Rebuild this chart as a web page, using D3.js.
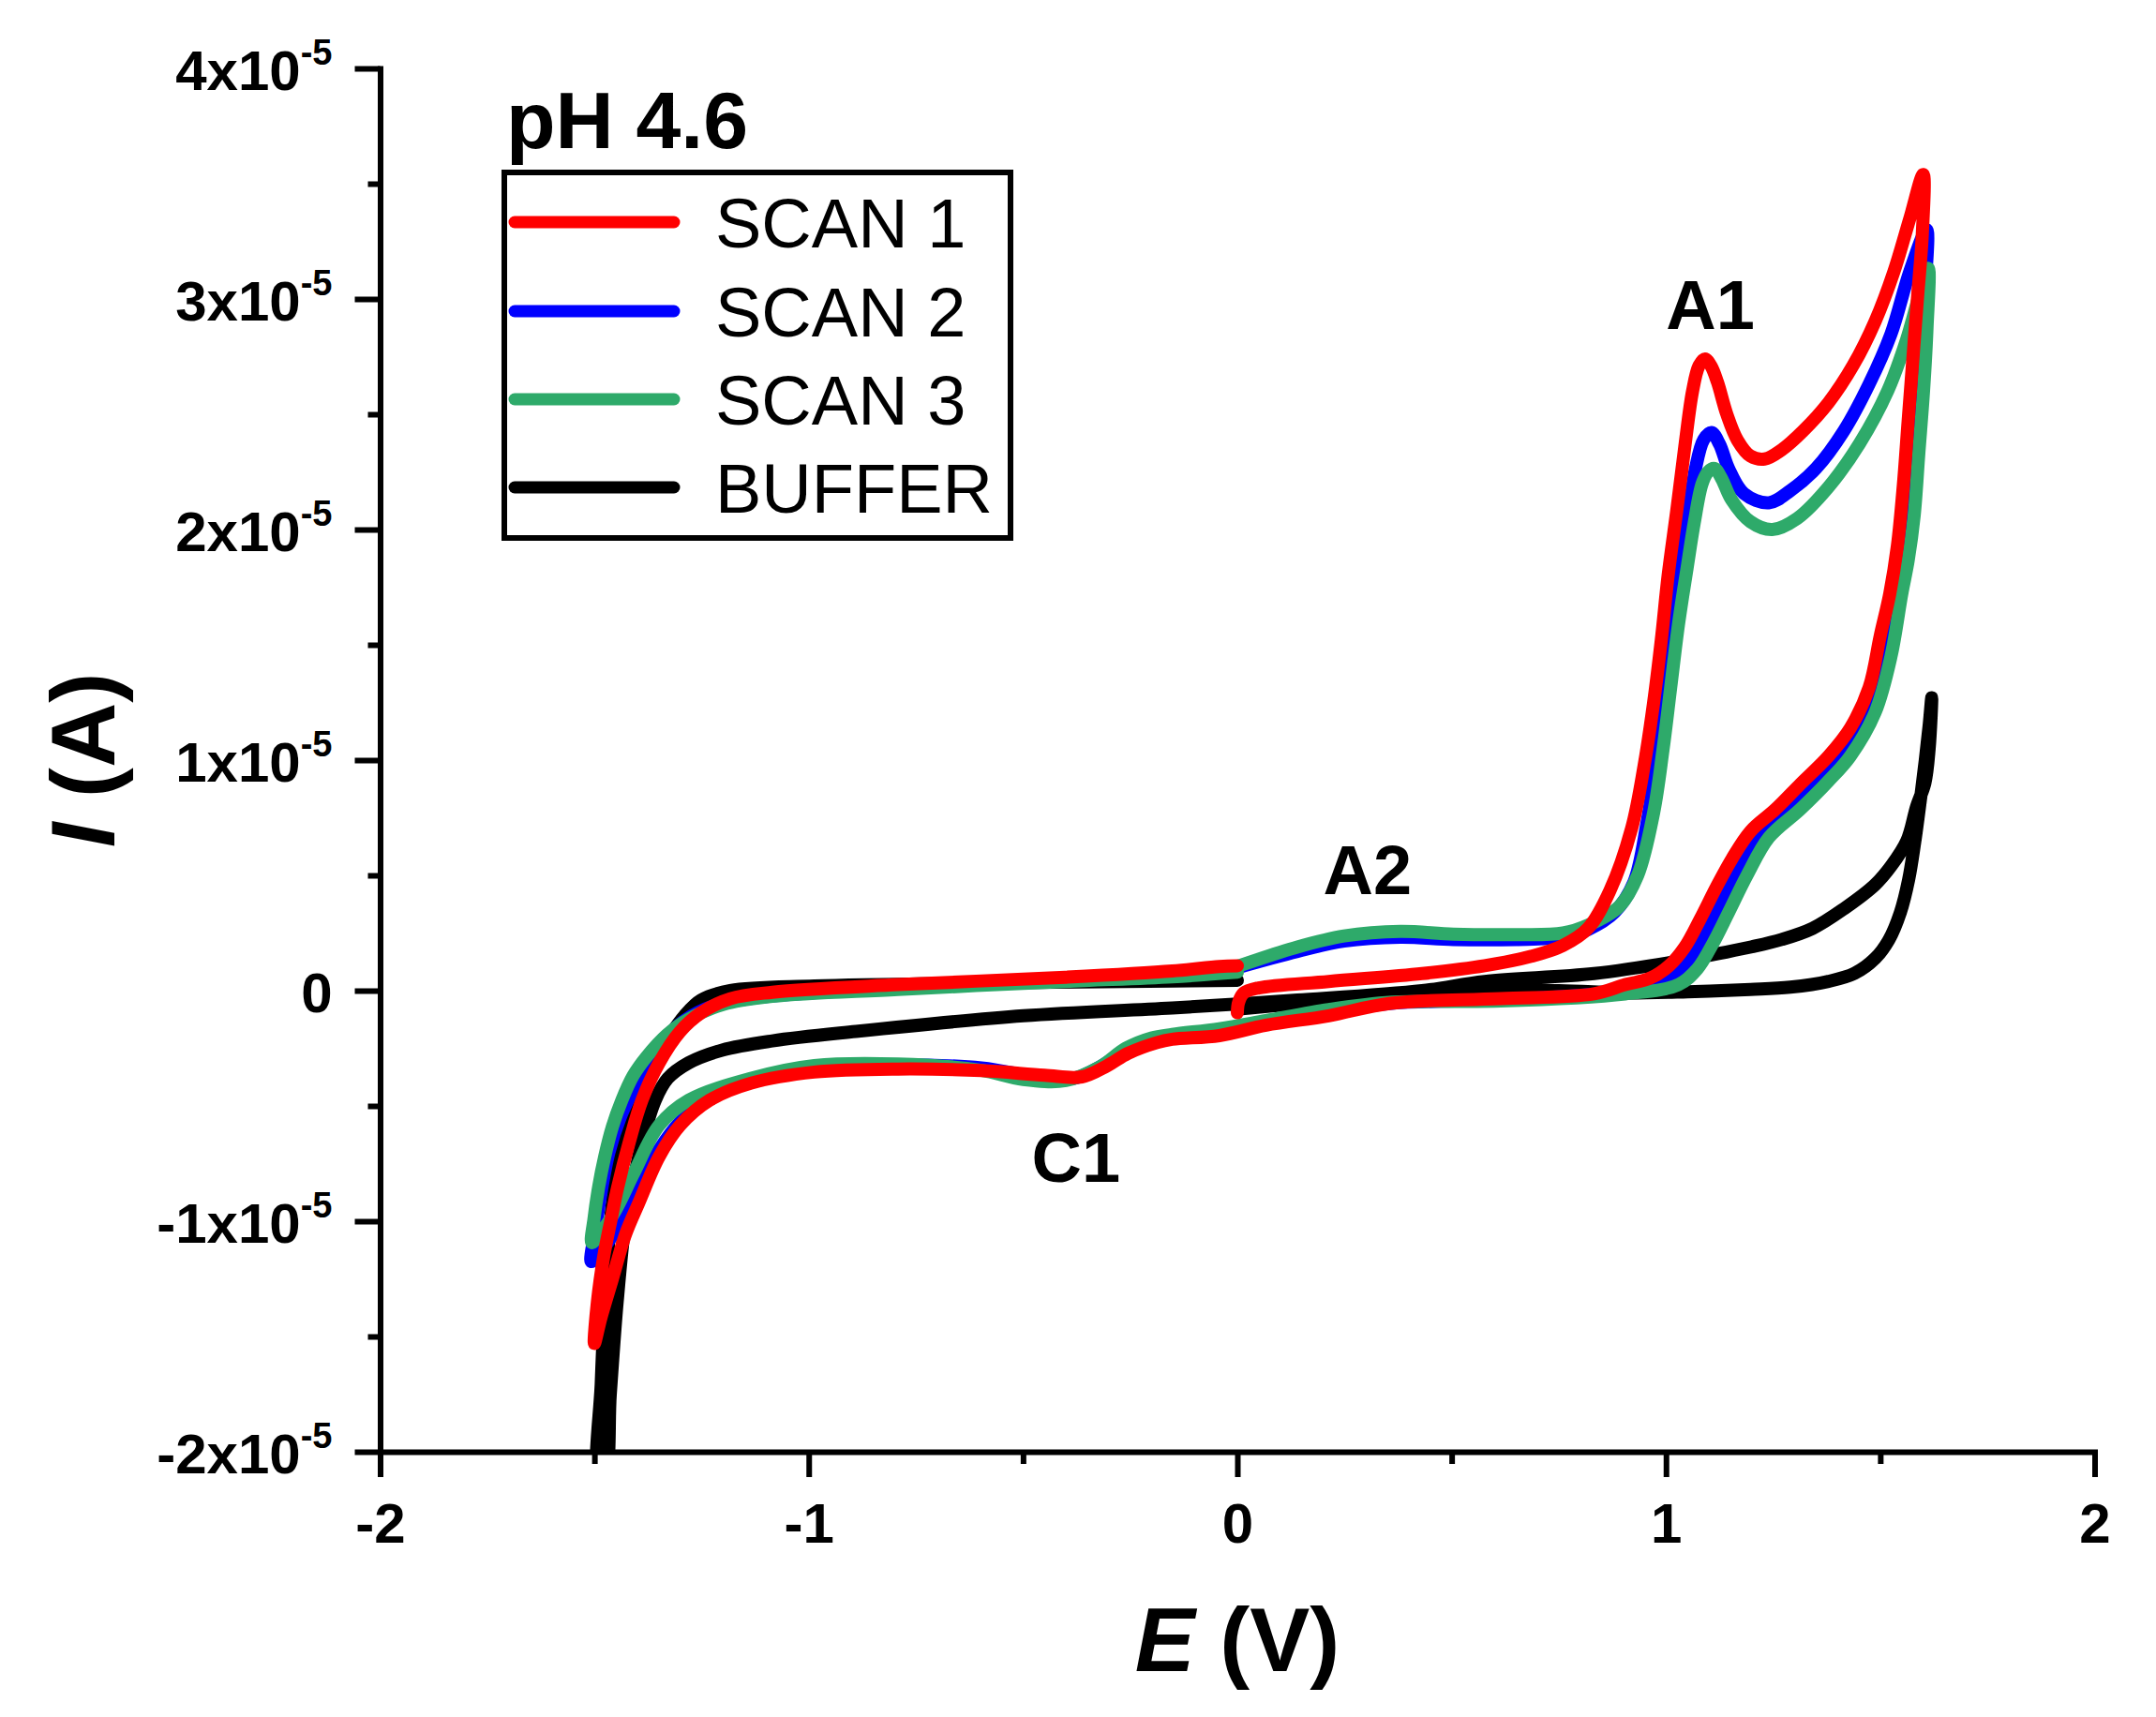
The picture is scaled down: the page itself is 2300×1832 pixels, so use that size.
<!DOCTYPE html>
<html><head><meta charset="utf-8">
<script src="https://cdn.jsdelivr.net/npm/d3@7"></script>
<style>body{margin:0;background:#fff}svg{display:block}</style>
</head><body>
<svg id="chart" width="2300" height="1832"></svg>
<script>
// ---------- data (E in V, I in units of 1e-5 A) ----------
const UNIT = 1e-5;
const xTicks = [-2, -1, 0, 1, 2];
const xMinorTicks = [-1.5, -0.5, 0.5, 1.5];
const xTickLabels = ["-2", "-1", "0", "1", "2"];
const yTicks = [-2, -1, 0, 1, 2, 3, 4];
const yMinorTicks = [-1.5, -0.5, 0.5, 1.5, 2.5, 3.5];
const yTickLabels = ["-2x10", "-1x10", "0", "1x10", "2x10", "3x10", "4x10"];
const yTickExponents = ["-5", "-5", "", "-5", "-5", "-5", "-5"];
const seriesNames = ["SCAN 1", "SCAN 2", "SCAN 3", "BUFFER"];
const seriesColors = ["#ff0000", "#0000ff", "#2eaa6a", "#000000"];
const titleText = "pH 4.6";
const xTitle = ["E", " (V)"];
const yTitle = ["I", " (A)"];
const peakLabels = ["A1", "A2", "C1"];
const peakPositions = [[1.00, 2.87], [0.20, 0.42], [-0.48, -0.83]];

const scan1 = [[0.000,-0.096],[0.003,-0.05],[0.015,-0.01],[0.05,0.012],[0.213,0.04],[0.431,0.074],[0.577,0.108],[0.686,0.149],[0.759,0.195],[0.818,0.27],[0.869,0.433],[0.920,0.705],[0.949,0.976],[0.971,1.247],[0.989,1.519],[1.005,1.80],[1.025,2.08],[1.044,2.36],[1.062,2.60],[1.077,2.71],[1.091,2.74],[1.105,2.71],[1.12,2.64],[1.142,2.50],[1.167,2.387],[1.197,2.319],[1.23,2.306],[1.27,2.346],[1.32,2.428],[1.379,2.55],[1.437,2.713],[1.488,2.903],[1.532,3.12],[1.569,3.35],[1.600,3.54],[1.598,3.28],[1.587,3.01],[1.576,2.74],[1.565,2.47],[1.554,2.197],[1.540,1.93],[1.522,1.72],[1.500,1.54],[1.474,1.315],[1.430,1.139],[1.379,1.017],[1.313,0.895],[1.255,0.786],[1.197,0.691],[1.153,0.569],[1.117,0.447],[1.080,0.311],[1.044,0.189],[1.007,0.108],[0.963,0.054],[0.905,0.026],[0.832,-0.014],[0.614,-0.035],[0.358,-0.055],[0.213,-0.109],[0.067,-0.15],[-0.042,-0.195],[-0.152,-0.211],[-0.187,-0.225],[-0.255,-0.272],[-0.304,-0.326],[-0.363,-0.374],[-0.45,-0.367],[-0.597,-0.347],[-0.792,-0.34],[-0.987,-0.353],[-1.134,-0.401],[-1.231,-0.475],[-1.3,-0.584],[-1.349,-0.72],[-1.397,-0.923],[-1.428,-1.06],[-1.458,-1.25],[-1.485,-1.42],[-1.500,-1.53],[-1.493,-1.35],[-1.478,-1.15],[-1.461,-0.991],[-1.446,-0.855],[-1.418,-0.652],[-1.389,-0.475],[-1.349,-0.313],[-1.3,-0.177],[-1.251,-0.096],[-1.183,-0.035],[-1.085,-0.007],[-0.792,0.026],[-0.402,0.058],[-0.152,0.085],[-0.042,0.105],[0.000,0.108]];

const scan2 = [[0.000,0.100],[0.14,0.17],[0.249,0.215],[0.38,0.232],[0.504,0.222],[0.65,0.222],[0.76,0.232],[0.818,0.265],[0.88,0.34],[0.925,0.47],[0.955,0.72],[0.978,1.0],[0.997,1.3],[1.015,1.58],[1.033,1.82],[1.051,2.04],[1.069,2.265],[1.088,2.39],[1.106,2.421],[1.125,2.37],[1.146,2.265],[1.182,2.156],[1.24,2.116],[1.291,2.17],[1.35,2.265],[1.415,2.428],[1.474,2.631],[1.525,2.848],[1.569,3.12],[1.608,3.30],[1.606,3.08],[1.598,2.80],[1.588,2.52],[1.577,2.24],[1.565,1.97],[1.550,1.78],[1.528,1.57],[1.503,1.40],[1.478,1.26],[1.432,1.08],[1.379,0.97],[1.313,0.85],[1.255,0.74],[1.205,0.63],[1.163,0.50],[1.125,0.37],[1.09,0.24],[1.055,0.13],[1.015,0.06],[0.95,0.015],[0.832,-0.015],[0.614,-0.04],[0.36,-0.055],[0.213,-0.095],[0.067,-0.14],[-0.042,-0.18],[-0.152,-0.2],[-0.2,-0.215],[-0.265,-0.265],[-0.32,-0.33],[-0.38,-0.38],[-0.45,-0.38],[-0.597,-0.335],[-0.792,-0.322],[-0.987,-0.335],[-1.134,-0.39],[-1.231,-0.465],[-1.3,-0.57],[-1.349,-0.69],[-1.40,-0.86],[-1.445,-1.02],[-1.48,-1.12],[-1.507,-1.175],[-1.497,-1.03],[-1.484,-0.87],[-1.466,-0.70],[-1.440,-0.55],[-1.412,-0.44],[-1.38,-0.33],[-1.34,-0.22],[-1.29,-0.13],[-1.22,-0.065],[-1.12,-0.03],[-0.792,0.012],[-0.402,0.05],[-0.152,0.075],[-0.042,0.09],[0.000,0.095]];

const scan3 = [[0.000,0.105],[0.14,0.189],[0.249,0.237],[0.38,0.257],[0.504,0.245],[0.65,0.243],[0.76,0.25],[0.818,0.284],[0.891,0.365],[0.934,0.50],[0.971,0.77],[0.993,1.044],[1.011,1.315],[1.029,1.586],[1.049,1.83],[1.066,2.03],[1.084,2.197],[1.098,2.25],[1.113,2.265],[1.13,2.22],[1.153,2.129],[1.197,2.034],[1.248,2.0],[1.306,2.048],[1.379,2.184],[1.452,2.374],[1.518,2.604],[1.561,2.821],[1.59,3.01],[1.612,3.133],[1.609,2.875],[1.601,2.604],[1.590,2.333],[1.579,2.06],[1.565,1.865],[1.550,1.72],[1.525,1.45],[1.488,1.207],[1.43,1.017],[1.379,0.909],[1.313,0.786],[1.24,0.664],[1.189,0.50],[1.146,0.339],[1.109,0.203],[1.073,0.094],[1.029,0.026],[0.905,-0.014],[0.614,-0.045],[0.36,-0.05],[0.213,-0.082],[0.067,-0.13],[-0.042,-0.165],[-0.152,-0.19],[-0.2,-0.205],[-0.26,-0.25],[-0.32,-0.33],[-0.4,-0.39],[-0.5,-0.385],[-0.6,-0.345],[-0.792,-0.318],[-0.987,-0.325],[-1.134,-0.38],[-1.28,-0.475],[-1.349,-0.584],[-1.407,-0.787],[-1.45,-0.95],[-1.485,-1.05],[-1.506,-1.093],[-1.501,-0.99],[-1.490,-0.85],[-1.476,-0.72],[-1.458,-0.59],[-1.436,-0.475],[-1.41,-0.37],[-1.378,-0.286],[-1.33,-0.19],[-1.28,-0.123],[-1.2,-0.06],[-1.085,-0.025],[-0.792,0.005],[-0.402,0.04],[-0.152,0.06],[0.000,0.08]];

const buffer = [[0.000,-0.08],[0.15,-0.055],[0.36,-0.025],[0.55,-0.005],[0.75,0.0],[0.905,-0.01],[1.05,-0.005],[1.197,0.005],[1.29,0.015],[1.379,0.04],[1.44,0.075],[1.488,0.14],[1.52,0.22],[1.547,0.34],[1.566,0.48],[1.580,0.64],[1.593,0.82],[1.605,1.0],[1.614,1.15],[1.620,1.27],[1.614,1.05],[1.604,0.90],[1.585,0.80],[1.562,0.65],[1.525,0.54],[1.488,0.46],[1.415,0.355],[1.342,0.27],[1.27,0.222],[1.20,0.19],[1.12,0.16],[1.051,0.135],[0.832,0.074],[0.577,0.04],[0.431,0.0],[0.14,-0.041],[-0.152,-0.075],[-0.499,-0.109],[-0.89,-0.177],[-1.085,-0.218],[-1.202,-0.258],[-1.28,-0.313],[-1.329,-0.381],[-1.358,-0.475],[-1.388,-0.652],[-1.412,-0.855],[-1.427,-0.991],[-1.447,-1.35],[-1.463,-1.75],[-1.476,-2.10],[-1.490,-2.10],[-1.484,-1.7],[-1.474,-1.3],[-1.46,-0.95],[-1.44,-0.70],[-1.41,-0.48],[-1.375,-0.33],[-1.339,-0.235],[-1.29,-0.109],[-1.251,-0.041],[-1.183,0.0],[-0.987,0.02],[-0.597,0.033],[-0.152,0.042],[0.000,0.045]];

const seriesData = [scan1, scan2, scan3, buffer];

// ---------- layout ----------
const FONT = "'Liberation Sans', Arial, Helvetica, sans-serif";
const svg = d3.select("#chart");
svg.append("rect").attr("width", 2300).attr("height", 1832).attr("fill", "#fff");

const x = d3.scaleLinear().domain([-2, 2]).range([405.5, 2234.5]);
const y = d3.scaleLinear().domain([-2 * UNIT, 4 * UNIT]).range([1549, 73]);

svg.append("defs").append("clipPath").attr("id", "plotclip")
  .append("rect").attr("x", x(-2)).attr("y", y(4 * UNIT))
  .attr("width", x(2) - x(-2)).attr("height", y(-2 * UNIT) - y(4 * UNIT));

const line = d3.line()
  .x(d => x(d[0]))
  .y(d => y(d[1] * UNIT))
  .curve(d3.curveCatmullRom.alpha(0.5));

// draw order: buffer at the bottom, scan 1 on top
const order = [3, 1, 2, 0];
const plot = svg.append("g").attr("clip-path", "url(#plotclip)");
order.forEach(i => {
  plot.append("path")
    .datum(seriesData[i])
    .attr("d", line)
    .attr("fill", "none")
    .attr("stroke", seriesColors[i])
    .attr("stroke-width", 14)
    .attr("stroke-linecap", "round")
    .attr("stroke-linejoin", "round");
});

// ---------- axes ----------
function styleAxis(g) {
  g.select(".domain").attr("stroke", "#000").attr("stroke-width", 6).attr("stroke-linecap", "square");
  g.selectAll(".tick line").attr("stroke", "#000").attr("stroke-width", 6);
}

// minor ticks
svg.append("g").attr("transform", `translate(0,${y(-2 * UNIT)})`)
  .call(d3.axisBottom(x).tickValues(xMinorTicks).tickSize(13).tickSizeOuter(0).tickFormat(""))
  .call(styleAxis).call(g => g.select(".domain").remove());
svg.append("g").attr("transform", `translate(${x(-2)},0)`)
  .call(d3.axisLeft(y).tickValues(yMinorTicks.map(v => v * UNIT)).tickSize(13).tickSizeOuter(0).tickFormat(""))
  .call(styleAxis).call(g => g.select(".domain").remove());

// major x axis
const gx = svg.append("g").attr("transform", `translate(0,${y(-2 * UNIT)})`)
  .call(d3.axisBottom(x).tickValues(xTicks).tickSize(27).tickSizeOuter(0)
    .tickFormat((d, i) => xTickLabels[i]))
  .call(styleAxis);
gx.selectAll(".tick text")
  .attr("y", 97).attr("dy", null)
  .attr("font-family", FONT).attr("font-size", 60).attr("font-weight", "bold").attr("fill", "#000");

// major y axis
const gy = svg.append("g").attr("transform", `translate(${x(-2)},0)`)
  .call(d3.axisLeft(y).tickValues(yTicks.map(v => v * UNIT)).tickSize(27).tickSizeOuter(0)
    .tickFormat(""))
  .call(styleAxis);
gy.selectAll(".tick").each(function (d, i) {
  const t = d3.select(this).select("text");
  t.text(null).attr("x", -51).attr("y", 22).attr("dy", null)
    .attr("text-anchor", "end")
    .attr("font-family", FONT).attr("font-weight", "bold").attr("fill", "#000");
  t.append("tspan").attr("font-size", 60).text(yTickLabels[i]);
  if (yTickExponents[i]) {
    t.append("tspan").attr("font-size", 38).attr("dy", -27).text(yTickExponents[i]);
  }
});
svg.selectAll(".tick text").attr("font-family", FONT);

// ---------- axis titles ----------
const xt = svg.append("text")
  .attr("x", (x(-2) + x(2)) / 2).attr("y", 1783)
  .attr("text-anchor", "middle")
  .attr("font-family", FONT).attr("font-size", 96).attr("font-weight", "bold");
xt.append("tspan").attr("font-style", "italic").text(xTitle[0]);
xt.append("tspan").text(xTitle[1]);

const yt = svg.append("text")
  .attr("transform", `translate(122,${(y(4 * UNIT) + y(-2 * UNIT)) / 2}) rotate(-90)`)
  .attr("text-anchor", "middle")
  .attr("font-family", FONT).attr("font-size", 96).attr("font-weight", "bold");
yt.append("tspan").attr("font-style", "italic").text(yTitle[0]);
yt.append("tspan").text(yTitle[1]);

// ---------- title and legend ----------
svg.append("text").attr("x", 540).attr("y", 158)
  .attr("font-family", FONT).attr("font-size", 86).attr("font-weight", "bold")
  .text(titleText);

svg.append("rect").attr("x", 538).attr("y", 184).attr("width", 540).attr("height", 390)
  .attr("fill", "none").attr("stroke", "#000").attr("stroke-width", 6);

const legendY = [237, 332, 426, 520];
seriesNames.forEach((name, i) => {
  svg.append("line")
    .attr("x1", 549).attr("x2", 719)
    .attr("y1", legendY[i]).attr("y2", legendY[i])
    .attr("stroke", seriesColors[i]).attr("stroke-width", 13).attr("stroke-linecap", "round");
  svg.append("text").attr("x", 763).attr("y", legendY[i] + 26.5)
    .attr("font-family", FONT).attr("font-size", 74).attr("fill", "#000")
    .text(name);
});

// ---------- peak annotations ----------
peakLabels.forEach((lab, i) => {
  svg.append("text")
    .attr("x", x(peakPositions[i][0]))
    .attr("y", y(peakPositions[i][1] * UNIT))
    .attr("font-family", FONT).attr("font-size", 74).attr("font-weight", "bold")
    .text(lab);
});
</script>
</body></html>
